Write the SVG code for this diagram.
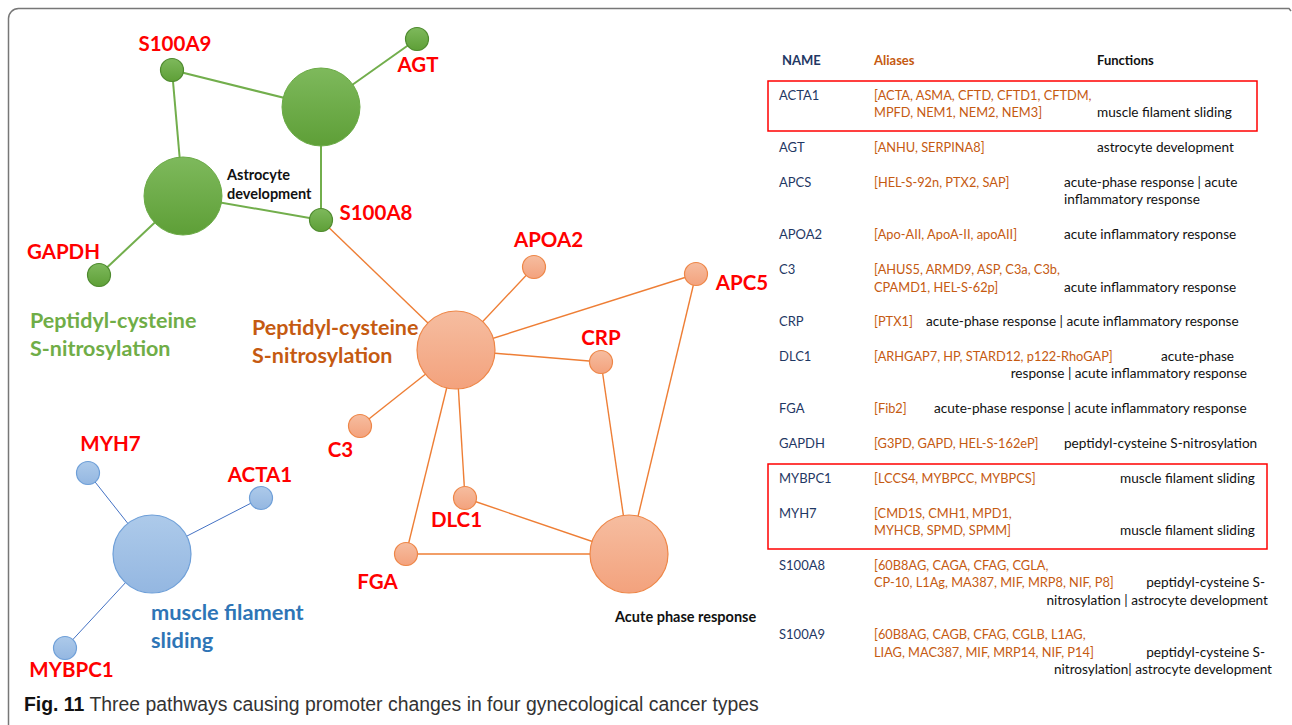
<svg xmlns="http://www.w3.org/2000/svg" width="1292" height="725" viewBox="0 0 1292 725">
<defs>
<linearGradient id="gG" x1="0" y1="0" x2="0" y2="1"><stop offset="0" stop-color="#7EB95C"/><stop offset="1" stop-color="#5E9F37"/></linearGradient>
<linearGradient id="gO" x1="0" y1="0" x2="0" y2="1"><stop offset="0" stop-color="#F6BDA0"/><stop offset="1" stop-color="#F3A27D"/></linearGradient>
<linearGradient id="gB" x1="0" y1="0" x2="0" y2="1"><stop offset="0" stop-color="#ADCAEA"/><stop offset="1" stop-color="#94B7E1"/></linearGradient>
<style>
.gbig{fill:url(#gG);stroke:#6AAA45;stroke-width:1}
.gsm{fill:url(#gG);stroke:#4E8A2E;stroke-width:1.2}
.ond{fill:url(#gO);stroke:#EE8647;stroke-width:1.2}
.bnd{fill:url(#gB);stroke:#6E9FD8;stroke-width:1.2}
.eg{stroke:#72AE4C;stroke-width:2;fill:none}
.eo{stroke:#EE7E35;stroke-width:1.4;fill:none}
.eb{stroke:#4472C4;stroke-width:1;fill:none}
.lbl{font-family:Lato,"Liberation Sans",sans-serif;font-weight:bold;font-size:20.5px;fill:#FF0000;text-anchor:middle}
.pwg{font-family:Lato,"Liberation Sans",sans-serif;font-weight:bold;font-size:21.5px;fill:#70AD47}
.pwo{font-family:Lato,"Liberation Sans",sans-serif;font-weight:bold;font-size:21.5px;fill:#C55A11}
.pwb{font-family:Lato,"Liberation Sans",sans-serif;font-weight:bold;font-size:21.8px;fill:#2E75B6}
.blk{font-family:Lato,"Liberation Sans",sans-serif;font-weight:bold;font-size:14.5px;fill:#111}
.th{font-family:Lato,"Liberation Sans",sans-serif;font-weight:bold;font-size:13px}
.t{font-family:Lato,"Liberation Sans",sans-serif;font-size:13px}
.nm{fill:#1F3864}
.al{fill:#C55A11;font-size:12.8px}
.fn{fill:#111;font-size:13.6px}
.th.fn{font-size:13px}
.th.al{font-size:13px}
.end{text-anchor:end}
.box{fill:none;stroke:#FF0000;stroke-width:1.5}
.cap{font-family:"Liberation Sans",Arial,sans-serif;font-size:19.4px;fill:#333}
</style>
</defs>
<rect width="1292" height="725" fill="#FFFFFF"/>
<path d="M8.5,725 V18.5 A10,10 0 0 1 18.5,8.5 H1289 L1291,11" fill="none" stroke="#777777" stroke-width="1.5"/>

<g id="connectors">
<line class="eg" x1="172" y1="70" x2="321" y2="107"/>
<line class="eg" x1="172" y1="70" x2="183" y2="196"/>
<line class="eg" x1="417" y1="39" x2="321" y2="107"/>
<line class="eg" x1="321" y1="107" x2="321" y2="220"/>
<line class="eg" x1="183" y1="196" x2="321" y2="220"/>
<line class="eg" x1="183" y1="196" x2="99" y2="275"/>
<line class="eo" x1="321" y1="220" x2="456" y2="350"/>
<line class="eo" x1="456" y1="350" x2="534" y2="267"/>
<line class="eo" x1="456" y1="350" x2="696" y2="274"/>
<line class="eo" x1="456" y1="350" x2="601" y2="362"/>
<line class="eo" x1="456" y1="350" x2="360" y2="426"/>
<line class="eo" x1="456" y1="350" x2="406" y2="554"/>
<line class="eo" x1="456" y1="350" x2="465" y2="498"/>
<line class="eo" x1="601" y1="362" x2="629" y2="554"/>
<line class="eo" x1="696" y1="274" x2="629" y2="554"/>
<line class="eo" x1="465" y1="498" x2="629" y2="554"/>
<line class="eo" x1="406" y1="554" x2="629" y2="554"/>
<line class="eb" x1="152" y1="554" x2="88" y2="473"/>
<line class="eb" x1="152" y1="554" x2="261" y2="498"/>
<line class="eb" x1="152" y1="554" x2="65" y2="648"/>
</g>

<g id="astrocyte-hub"><circle class="gbig" cx="321" cy="107" r="39"/></g>
<g id="astrocyte-development"><circle class="gbig" cx="183" cy="196" r="39"/>
<text class="blk" x="227" y="180">Astrocyte</text><text class="blk" x="227" y="199">development</text></g>
<g id="S100A9"><circle class="gsm" cx="172" cy="70" r="11.5"/><text class="lbl" x="175" y="51">S100A9</text></g>
<g id="AGT"><circle class="gsm" cx="417" cy="39" r="11.5"/><text class="lbl" x="418" y="72">AGT</text></g>
<g id="S100A8"><circle class="gsm" cx="321" cy="220" r="11.5"/><text class="lbl" x="376" y="220">S100A8</text></g>
<g id="GAPDH"><circle class="gsm" cx="99" cy="275" r="11.5"/><text class="lbl" x="63.5" y="259">GAPDH</text></g>
<g id="green-pathway-label"><text class="pwg" x="30" y="328">Peptidyl-cysteine</text><text class="pwg" x="30" y="356">S-nitrosylation</text></g>

<g id="peptidyl-hub"><circle class="ond" cx="456" cy="350" r="39"/>
<text class="pwo" x="252" y="335">Peptidyl-cysteine</text><text class="pwo" x="252" y="363">S-nitrosylation</text></g>
<g id="acute-phase-response"><circle class="ond" cx="629" cy="554" r="39"/><text class="blk" x="615" y="622">Acute phase response</text></g>
<g id="APOA2"><circle class="ond" cx="534" cy="267" r="11.5"/><text class="lbl" x="548.5" y="247">APOA2</text></g>
<g id="APC5"><circle class="ond" cx="696" cy="274" r="11.5"/><text class="lbl" x="742" y="290">APC5</text></g>
<g id="CRP"><circle class="ond" cx="601" cy="362" r="11.5"/><text class="lbl" x="601" y="345">CRP</text></g>
<g id="C3"><circle class="ond" cx="360" cy="426" r="11.5"/><text class="lbl" x="340.5" y="457">C3</text></g>
<g id="DLC1"><circle class="ond" cx="465" cy="498" r="11.5"/><text class="lbl" x="456.5" y="527">DLC1</text></g>
<g id="FGA"><circle class="ond" cx="406" cy="554" r="11.5"/><text class="lbl" x="377.5" y="589">FGA</text></g>

<g id="muscle-filament-sliding"><circle class="bnd" cx="152" cy="554" r="39"/>
<text class="pwb" x="151" y="620">muscle filament</text><text class="pwb" x="151" y="648">sliding</text></g>
<g id="MYH7"><circle class="bnd" cx="88" cy="473" r="11.5"/><text class="lbl" x="110.5" y="451">MYH7</text></g>
<g id="ACTA1"><circle class="bnd" cx="261" cy="498" r="11.5"/><text class="lbl" x="260" y="482">ACTA1</text></g>
<g id="MYBPC1"><circle class="bnd" cx="65" cy="648" r="11.5"/><text class="lbl" x="71.5" y="677">MYBPC1</text></g>

<g id="table">
<text class="th nm" x="782" y="65">NAME</text>
<text class="th al" x="874" y="65">Aliases</text>
<text class="th fn" x="1097" y="65">Functions</text>
<rect class="box" x="768" y="81" width="489" height="50"/>
<rect class="box" x="768" y="464" width="499" height="85"/>

<text class="t nm" x="779" y="100">ACTA1</text>
<text class="t al" x="874" y="100">[ACTA, ASMA, CFTD, CFTD1, CFTDM,</text>
<text class="t al" x="874" y="117">MPFD, NEM1, NEM2, NEM3]</text>
<text class="t fn" x="1097" y="117">muscle filament sliding</text>

<text class="t nm" x="779" y="152">AGT</text>
<text class="t al" x="874" y="152">[ANHU, SERPINA8]</text>
<text class="t fn" x="1097" y="152">astrocyte development</text>

<text class="t nm" x="779" y="187">APCS</text>
<text class="t al" x="874" y="187">[HEL-S-92n, PTX2, SAP]</text>
<text class="t fn" x="1064" y="187">acute-phase response | acute</text>
<text class="t fn" x="1064" y="204">inflammatory response</text>

<text class="t nm" x="779" y="239">APOA2</text>
<text class="t al" x="874" y="239">[Apo-AII, ApoA-II, apoAII]</text>
<text class="t fn" x="1064" y="239">acute inflammatory response</text>

<text class="t nm" x="779" y="274">C3</text>
<text class="t al" x="874" y="274">[AHUS5, ARMD9, ASP, C3a, C3b,</text>
<text class="t al" x="874" y="292">CPAMD1, HEL-S-62p]</text>
<text class="t fn" x="1064" y="292">acute inflammatory response</text>

<text class="t nm" x="779" y="326">CRP</text>
<text class="t al" x="874" y="326">[PTX1]</text>
<text class="t fn" x="926" y="326">acute-phase response | acute inflammatory response</text>

<text class="t nm" x="779" y="361">DLC1</text>
<text class="t al" x="874" y="361">[ARHGAP7, HP, STARD12, p122-RhoGAP]</text>
<text class="t fn end" x="1234" y="361">acute-phase</text>
<text class="t fn end" x="1247" y="378">response | acute inflammatory response</text>

<text class="t nm" x="779" y="413">FGA</text>
<text class="t al" x="874" y="413">[Fib2]</text>
<text class="t fn" x="934" y="413">acute-phase response | acute inflammatory response</text>

<text class="t nm" x="779" y="448">GAPDH</text>
<text class="t al" x="874" y="448">[G3PD, GAPD, HEL-S-162eP]</text>
<text class="t fn" x="1064" y="448">peptidyl-cysteine S-nitrosylation</text>

<text class="t nm" x="779" y="483">MYBPC1</text>
<text class="t al" x="874" y="483">[LCCS4, MYBPCC, MYBPCS]</text>
<text class="t fn" x="1120" y="483">muscle filament sliding</text>

<text class="t nm" x="779" y="518">MYH7</text>
<text class="t al" x="874" y="518">[CMD1S, CMH1, MPD1,</text>
<text class="t al" x="874" y="535">MYHCB, SPMD, SPMM]</text>
<text class="t fn" x="1120" y="535">muscle filament sliding</text>

<text class="t nm" x="779" y="570">S100A8</text>
<text class="t al" x="874" y="570">[60B8AG, CAGA, CFAG, CGLA,</text>
<text class="t al" x="874" y="587">CP-10, L1Ag, MA387, MIF, MRP8, NIF, P8]</text>
<text class="t fn end" x="1265" y="587">peptidyl-cysteine S-</text>
<text class="t fn end" x="1268" y="605">nitrosylation | astrocyte development</text>

<text class="t nm" x="779" y="639">S100A9</text>
<text class="t al" x="874" y="639">[60B8AG, CAGB, CFAG, CGLB, L1AG,</text>
<text class="t al" x="874" y="657">LIAG, MAC387, MIF, MRP14, NIF, P14]</text>
<text class="t fn end" x="1265" y="657">peptidyl-cysteine S-</text>
<text class="t fn end" x="1272" y="674">nitrosylation| astrocyte development</text>
</g>

<text class="cap" x="24" y="711"><tspan font-weight="bold" fill="#111">Fig. 11</tspan> Three pathways causing promoter changes in four gynecological cancer types</text>
</svg>
